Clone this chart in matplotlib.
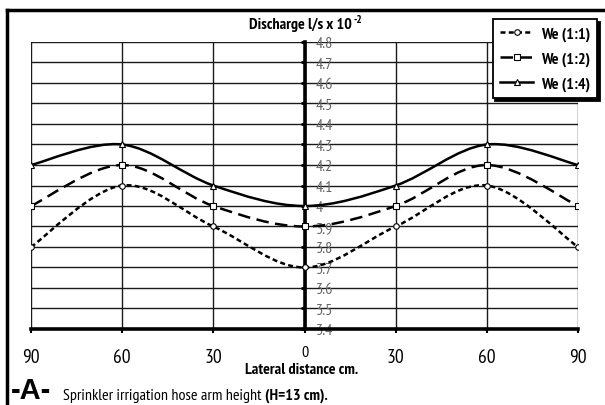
import numpy as np
import matplotlib
matplotlib.use("Agg")
import matplotlib.pyplot as plt
from matplotlib.path import Path
from matplotlib.patches import PathPatch
from matplotlib.lines import Line2D

plt.rcParams['font.family'] = ['PT Sans Narrow', 'Roboto Condensed', 'DejaVu Sans']

# lateral distance (cm), left side negative, shown as absolute values
dist = [-90, -60, -30, 0, 30, 60, 90]
we_11 = [3.8, 4.1, 3.9, 3.7, 3.9, 4.1, 3.8]
we_12 = [4.0, 4.2, 4.0, 3.9, 4.0, 4.2, 4.0]
we_14 = [4.2, 4.3, 4.1, 4.0, 4.1, 4.3, 4.2]
labels = ['We (1:1)', 'We (1:2)', 'We (1:4)']
x_ticks = [-90, -60, -30, 0, 30, 60, 90]
y_ticks = [3.4, 3.5, 3.6, 3.7, 3.8, 3.9, 4.0, 4.1, 4.2, 4.3, 4.4, 4.5, 4.6, 4.7, 4.8]


def smooth_path(x, y):
    # excel style smoothed line: catmull-rom converted to cubic bezier
    p = np.column_stack([x, y]).astype(float)
    n = len(p)
    verts = [p[0]]
    codes = [Path.MOVETO]
    for i in range(n - 1):
        p0 = p[i - 1] if i > 0 else p[i]
        p3 = p[i + 2] if i + 2 < n else p[i + 1]
        c1 = p[i] + (p[i + 1] - p0) / 6
        c2 = p[i + 1] - (p3 - p[i]) / 6
        verts += [c1, c2, p[i + 1]]
        codes += [Path.CURVE4] * 3
    return Path(verts, codes)


fig = plt.figure(figsize=(6.05, 4.06), dpi=100)
ax = fig.add_axes([31 / 605, 1 - 330 / 406, (578 - 31) / 605, (330 - 43) / 406])

styles = [
    (we_11, (0, (2.0, 1.3)), 'o', 4),
    (we_12, (0, (5.0, 2.6)), 's', 4.5),
    (we_14, '-', '^', 4),
]
handles = []
for (vals, ls, mk, ms), lab in zip(styles, labels):
    patch = PathPatch(smooth_path(dist, vals), facecolor='none', edgecolor='black',
                      lw=1.8, linestyle=ls, zorder=3)
    ax.add_patch(patch)
    ax.plot(dist, vals, linestyle='none', marker=mk, ms=ms, mfc='white',
            mec='black', mew=0.8, zorder=4)
    handles.append(Line2D([], [], color='black', lw=1.8, linestyle=ls, marker=mk,
                          ms=ms, mfc='white', mec='black', mew=0.8))

ax.set_xlim(-90, 90)
ax.set_ylim(3.4, 4.8)
ax.set_xticks(x_ticks)
ax.set_xticklabels([])
ax.set_yticks(y_ticks)
ax.grid(True, color='#1a1a1a', lw=1.0, zorder=1)
ax.set_axisbelow(True)

for s in ['top', 'left']:
    ax.spines[s].set_visible(False)
ax.spines['bottom'].set_linewidth(2.6)
ax.spines['right'].set_position(('data', 0))
ax.spines['right'].set_linewidth(2.6)
ax.yaxis.tick_right()
ax.yaxis.set_major_formatter(matplotlib.ticker.FuncFormatter(lambda v, p: f'{v:g}'))
ax.tick_params(axis='y', direction='in', length=3, width=2, pad=8,
               labelsize=11.5, labelcolor='#666666')
ax.tick_params(axis='x', direction='out', length=3, width=1.5)

# x tick labels (absolute distance)
for xv in x_ticks:
    if xv == 0:
        ax.text(xv, -0.055, '0', transform=ax.get_xaxis_transform(), ha='center',
                va='top', fontsize=11.5)
    else:
        ax.text(xv, -0.065, str(abs(xv)), transform=ax.get_xaxis_transform(),
                ha='center', va='top', fontsize=14)

title = fig.text(300 / 605, 1 - 25 / 406, 'Discharge l/s x 10', ha='center',
                 va='center', fontsize=11.5, fontweight='bold')
fig.canvas.draw()
tb = title.get_window_extent()
fig.text(tb.x1 / fig.bbox.width + 2 / 605, 1 - 20 / 406, '-2', ha='left', va='center',
         fontsize=8, fontweight='bold')
fig.text(302 / 605, 1 - 370 / 406, 'Lateral distance cm.', ha='center', va='center',
         fontsize=11.5, fontweight='bold')
fig.text(11 / 605, 1 - 391 / 406, '-A-', ha='left', va='center', fontsize=21,
         fontweight='bold', family=['Liberation Sans', 'DejaVu Sans'])
t = fig.text(63 / 605, 1 - 396 / 406, 'Sprinkler irrigation hose arm height ',
             ha='left', va='center', fontsize=11.5)
fig.canvas.draw()
bb = t.get_window_extent()
fig.text(bb.x1 / fig.bbox.width, 1 - 396 / 406, '(H=13 cm).', ha='left',
         va='center', fontsize=11.5, fontweight='bold')

# outer frame
fig.add_artist(Line2D([7 / 605, 7 / 605], [0, 1 - 11 / 406], color='black', lw=2.5,
                      transform=fig.transFigure))
fig.add_artist(Line2D([7 / 605, 1], [1 - 11 / 406, 1 - 11 / 406], color='black', lw=2.5,
                      transform=fig.transFigure))

leg = ax.legend(handles, labels, loc='upper right', bbox_to_anchor=(597 / 605, 1 - 20 / 406),
                bbox_transform=fig.transFigure, borderaxespad=0, fancybox=False,
                edgecolor='black', framealpha=1, handlelength=2.1, handletextpad=0.45,
                labelspacing=0.65, borderpad=0.45,
                prop={'weight': 'bold', 'size': 11.5},
                shadow={'color': 'black', 'alpha': 1.0})
leg.get_frame().set_linewidth(1.3)

fig.savefig('out.png', dpi=100)
